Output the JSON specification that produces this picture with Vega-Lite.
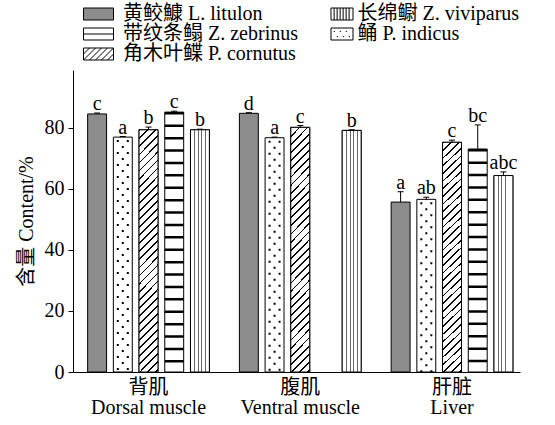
{
  "$schema": "https://vega.github.io/schema/vega-lite/v6.json",
  "width": 447,
  "height": 302,
  "autosize": {"type": "none"},
  "padding": {"left": 73, "top": 70, "right": 35, "bottom": 53},
  "background": "white",
  "config": {
    "view": {"stroke": null},
    "font": "Liberation Serif, Noto Sans CJK SC",
    "axis": {"domainColor": "black", "tickColor": "black", "labelColor": "black", "titleColor": "black", "grid": false, "labelFont": "Liberation Serif, Noto Sans CJK SC", "titleFont": "Liberation Serif, Noto Sans CJK SC", "labelFontSize": 20, "titleFontSize": 20, "titleFontWeight": "normal"},
    "legend": {"labelFont": "Liberation Serif, Noto Sans CJK SC", "labelFontSize": 20, "labelColor": "black"}
  },
  "data": {
    "values": [
      {"group": "背肌|Dorsal muscle", "species": "黄鲛鱇 L. litulon", "value": 84.6, "hi": 84.9, "letter": "c"},
      {"group": "背肌|Dorsal muscle", "species": "鲬 P. indicus", "value": 77.0, "hi": 77.2, "letter": "a"},
      {"group": "背肌|Dorsal muscle", "species": "角木叶鲽 P. cornutus", "value": 79.4, "hi": 80.3, "letter": "b"},
      {"group": "背肌|Dorsal muscle", "species": "带纹条鳎 Z. zebrinus", "value": 85.2, "hi": 85.5, "letter": "c"},
      {"group": "背肌|Dorsal muscle", "species": "长绵鳚 Z. viviparus", "value": 79.4, "hi": 79.6, "letter": "b"},
      {"group": "腹肌|Ventral muscle", "species": "黄鲛鱇 L. litulon", "value": 84.8, "hi": 85.0, "letter": "d"},
      {"group": "腹肌|Ventral muscle", "species": "鲬 P. indicus", "value": 76.8, "hi": 77.0, "letter": "a"},
      {"group": "腹肌|Ventral muscle", "species": "角木叶鲽 P. cornutus", "value": 80.2, "hi": 80.8, "letter": "c"},
      {"group": "腹肌|Ventral muscle", "species": "长绵鳚 Z. viviparus", "value": 79.2, "hi": 79.4, "letter": "b"},
      {"group": "肝脏|Liver", "species": "黄鲛鱇 L. litulon", "value": 55.7, "hi": 59.1, "letter": "a"},
      {"group": "肝脏|Liver", "species": "鲬 P. indicus", "value": 56.6, "hi": 57.3, "letter": "ab"},
      {"group": "肝脏|Liver", "species": "角木叶鲽 P. cornutus", "value": 75.3, "hi": 76.0, "letter": "c"},
      {"group": "肝脏|Liver", "species": "带纹条鳎 Z. zebrinus", "value": 73.1, "hi": 81.0, "letter": "bc"},
      {"group": "肝脏|Liver", "species": "长绵鳚 Z. viviparus", "value": 64.4, "hi": 65.6, "letter": "abc"}
    ]
  },
  "encoding": {
    "x": {
      "field": "group", "type": "nominal", "sort": null,
      "scale": {"domain": ["背肌|Dorsal muscle", "腹肌|Ventral muscle", "肝脏|Liver"], "paddingInner": 0.153, "paddingOuter": 0.0493, "align": 0.752},
      "axis": {"title": null, "ticks": false, "labelAngle": 0, "labelExpr": "split(datum.label, '|')", "labelPadding": 5, "labelLineHeight": 20.5, "labelBaseline": "top"}
    },
    "xOffset": {
      "field": "species", "type": "nominal",
      "scale": {"domain": ["黄鲛鱇 L. litulon", "鲬 P. indicus", "角木叶鲽 P. cornutus", "带纹条鳎 Z. zebrinus", "长绵鳚 Z. viviparus"], "paddingInner": 0.264, "paddingOuter": 0.132}
    },
    "y": {
      "field": "value", "type": "quantitative",
      "scale": {"domain": [0, 99], "nice": false},
      "axis": {"title": "含量 Content/%", "values": [0, 20, 40, 60, 80], "tickSize": 5, "labelPadding": 4, "titlePadding": 8}
    }
  },
  "layer": [
    {
      "mark": {"type": "bar", "stroke": "black", "strokeWidth": 1, "opacity": 1},
      "encoding": {
        "fill": {
          "field": "species", "type": "nominal",
          "scale": {"domain": ["黄鲛鱇 L. litulon", "带纹条鳎 Z. zebrinus", "角木叶鲽 P. cornutus", "长绵鳚 Z. viviparus", "鲬 P. indicus"], "range": ["#8c8c8c", "white", "white", "white", "white"]},
          "legend": {
            "title": null, "orient": "none", "legendX": 15.5, "legendY": -66, "columns": 2, "columnPadding": 24.5, "rowPadding": 0, "padding": 0,
            "symbolSize": 225, "symbolStrokeColor": "black", "symbolStrokeWidth": 1, "labelOffset": 14.5, "labelLimit": 400,
            "symbolType": {"expr": "indexof(datum.value,'zebrinus')>=0 ? 'M-2,-0.8H2V0.8H-2ZM-2,0H2' : indexof(datum.value,'viviparus')>=0 ? 'M-0.267,-0.8H2.667V0.8H-0.267ZM0.15,-0.8V0.8M0.55,-0.8V0.8M0.95,-0.8V0.8M1.35,-0.8V0.8M1.75,-0.8V0.8M2.15,-0.8V0.8' : indexof(datum.value,'cornutus')>=0 ? 'M-2,-0.8H2V0.8H-2ZM-2,0L-1.2,-0.8M-2,0.8L-0.4,-0.8M-1.2,0.8L0.4,-0.8M-0.4,0.8L1.2,-0.8M0.4,0.8L2,-0.8M1.2,0.8L2,0' : indexof(datum.value,'indicus')>=0 ? 'M-0.267,-0.8H2.667V0.8H-0.267ZM0.1,-0.35h0.16M0.9,-0.35h0.16M1.7,-0.35h0.16M0.5,0.35h0.16M1.3,0.35h0.16M2.1,0.35h0.16' : 'M-2,-0.8H2V0.8H-2Z'"}
          }
        }
      }
    },
    {
      "transform": [{"filter": "indexof(datum.species,'cornutus')>=0"}],
      "mark": {
        "type": "bar", "stroke": "black", "strokeWidth": 1,
        "fill": {"gradient": "linear", "x1": 0, "y1": 0, "x2": 0.0865, "y2": 1.093, "stops": [
          {"offset": 0, "color": "#000"}, {"offset": 0.0067, "color": "#000"}, {"offset": 0.0067, "color": "#fff"}, {"offset": 0.0303, "color": "#fff"},
          {"offset": 0.0303, "color": "#000"}, {"offset": 0.037, "color": "#000"}, {"offset": 0.037, "color": "#fff"}, {"offset": 0.0606, "color": "#fff"},
          {"offset": 0.0606, "color": "#000"}, {"offset": 0.0673, "color": "#000"}, {"offset": 0.0673, "color": "#fff"}, {"offset": 0.0909, "color": "#fff"},
          {"offset": 0.0909, "color": "#000"}, {"offset": 0.0976, "color": "#000"}, {"offset": 0.0976, "color": "#fff"}, {"offset": 0.1212, "color": "#fff"},
          {"offset": 0.1212, "color": "#000"}, {"offset": 0.1279, "color": "#000"}, {"offset": 0.1279, "color": "#fff"}, {"offset": 0.1515, "color": "#fff"},
          {"offset": 0.1515, "color": "#000"}, {"offset": 0.1582, "color": "#000"}, {"offset": 0.1582, "color": "#fff"}, {"offset": 0.1818, "color": "#fff"},
          {"offset": 0.1818, "color": "#000"}, {"offset": 0.1885, "color": "#000"}, {"offset": 0.1885, "color": "#fff"}, {"offset": 0.2121, "color": "#fff"},
          {"offset": 0.2121, "color": "#000"}, {"offset": 0.2188, "color": "#000"}, {"offset": 0.2188, "color": "#fff"}, {"offset": 0.2424, "color": "#fff"},
          {"offset": 0.2424, "color": "#000"}, {"offset": 0.2491, "color": "#000"}, {"offset": 0.2491, "color": "#fff"}, {"offset": 0.2727, "color": "#fff"},
          {"offset": 0.2727, "color": "#000"}, {"offset": 0.2794, "color": "#000"}, {"offset": 0.2794, "color": "#fff"}, {"offset": 0.303, "color": "#fff"},
          {"offset": 0.303, "color": "#000"}, {"offset": 0.3097, "color": "#000"}, {"offset": 0.3097, "color": "#fff"}, {"offset": 0.3333, "color": "#fff"},
          {"offset": 0.3333, "color": "#000"}, {"offset": 0.34, "color": "#000"}, {"offset": 0.34, "color": "#fff"}, {"offset": 0.3636, "color": "#fff"},
          {"offset": 0.3636, "color": "#000"}, {"offset": 0.3703, "color": "#000"}, {"offset": 0.3703, "color": "#fff"}, {"offset": 0.3939, "color": "#fff"},
          {"offset": 0.3939, "color": "#000"}, {"offset": 0.4006, "color": "#000"}, {"offset": 0.4006, "color": "#fff"}, {"offset": 0.4242, "color": "#fff"},
          {"offset": 0.4242, "color": "#000"}, {"offset": 0.4309, "color": "#000"}, {"offset": 0.4309, "color": "#fff"}, {"offset": 0.4545, "color": "#fff"},
          {"offset": 0.4545, "color": "#000"}, {"offset": 0.4612, "color": "#000"}, {"offset": 0.4612, "color": "#fff"}, {"offset": 0.4848, "color": "#fff"},
          {"offset": 0.4848, "color": "#000"}, {"offset": 0.4915, "color": "#000"}, {"offset": 0.4915, "color": "#fff"}, {"offset": 0.5152, "color": "#fff"},
          {"offset": 0.5152, "color": "#000"}, {"offset": 0.5219, "color": "#000"}, {"offset": 0.5219, "color": "#fff"}, {"offset": 0.5455, "color": "#fff"},
          {"offset": 0.5455, "color": "#000"}, {"offset": 0.5522, "color": "#000"}, {"offset": 0.5522, "color": "#fff"}, {"offset": 0.5758, "color": "#fff"},
          {"offset": 0.5758, "color": "#000"}, {"offset": 0.5825, "color": "#000"}, {"offset": 0.5825, "color": "#fff"}, {"offset": 0.6061, "color": "#fff"},
          {"offset": 0.6061, "color": "#000"}, {"offset": 0.6128, "color": "#000"}, {"offset": 0.6128, "color": "#fff"}, {"offset": 0.6364, "color": "#fff"},
          {"offset": 0.6364, "color": "#000"}, {"offset": 0.6431, "color": "#000"}, {"offset": 0.6431, "color": "#fff"}, {"offset": 0.6667, "color": "#fff"},
          {"offset": 0.6667, "color": "#000"}, {"offset": 0.6734, "color": "#000"}, {"offset": 0.6734, "color": "#fff"}, {"offset": 0.697, "color": "#fff"},
          {"offset": 0.697, "color": "#000"}, {"offset": 0.7037, "color": "#000"}, {"offset": 0.7037, "color": "#fff"}, {"offset": 0.7273, "color": "#fff"},
          {"offset": 0.7273, "color": "#000"}, {"offset": 0.734, "color": "#000"}, {"offset": 0.734, "color": "#fff"}, {"offset": 0.7576, "color": "#fff"},
          {"offset": 0.7576, "color": "#000"}, {"offset": 0.7643, "color": "#000"}, {"offset": 0.7643, "color": "#fff"}, {"offset": 0.7879, "color": "#fff"},
          {"offset": 0.7879, "color": "#000"}, {"offset": 0.7946, "color": "#000"}, {"offset": 0.7946, "color": "#fff"}, {"offset": 0.8182, "color": "#fff"},
          {"offset": 0.8182, "color": "#000"}, {"offset": 0.8249, "color": "#000"}, {"offset": 0.8249, "color": "#fff"}, {"offset": 0.8485, "color": "#fff"},
          {"offset": 0.8485, "color": "#000"}, {"offset": 0.8552, "color": "#000"}, {"offset": 0.8552, "color": "#fff"}, {"offset": 0.8788, "color": "#fff"},
          {"offset": 0.8788, "color": "#000"}, {"offset": 0.8855, "color": "#000"}, {"offset": 0.8855, "color": "#fff"}, {"offset": 0.9091, "color": "#fff"},
          {"offset": 0.9091, "color": "#000"}, {"offset": 0.9158, "color": "#000"}, {"offset": 0.9158, "color": "#fff"}, {"offset": 0.9394, "color": "#fff"},
          {"offset": 0.9394, "color": "#000"}, {"offset": 0.9461, "color": "#000"}, {"offset": 0.9461, "color": "#fff"}, {"offset": 0.9697, "color": "#fff"},
          {"offset": 0.9697, "color": "#000"}, {"offset": 0.9764, "color": "#000"}, {"offset": 0.9764, "color": "#fff"}, {"offset": 1, "color": "#fff"}
        ]}
      }
    },
    {
      "transform": [{"filter": "indexof(datum.species,'viviparus')>=0"}],
      "mark": {
        "type": "bar", "stroke": "black", "strokeWidth": 1,
        "fill": {"gradient": "linear", "x1": 0, "y1": 0, "x2": 1, "y2": 0, "stops": [
          {"offset": 0, "color": "#fff"}, {"offset": 0.19, "color": "#fff"}, {"offset": 0.19, "color": "#666"}, {"offset": 0.24, "color": "#666"}, {"offset": 0.24, "color": "#fff"},
          {"offset": 0.39, "color": "#fff"}, {"offset": 0.39, "color": "#666"}, {"offset": 0.44, "color": "#666"}, {"offset": 0.44, "color": "#fff"},
          {"offset": 0.58, "color": "#fff"}, {"offset": 0.58, "color": "#666"}, {"offset": 0.63, "color": "#666"}, {"offset": 0.63, "color": "#fff"},
          {"offset": 0.77, "color": "#fff"}, {"offset": 0.77, "color": "#666"}, {"offset": 0.82, "color": "#666"}, {"offset": 0.82, "color": "#fff"},
          {"offset": 1, "color": "#fff"}
        ]}
      }
    },
    {
      "transform": [{"filter": "indexof(datum.species,'zebrinus')>=0"}],
      "mark": {"type": "rule", "color": "black", "strokeWidth": 18.9, "strokeDash": [2.5, 9.9], "strokeCap": "butt"},
      "encoding": {"y2": {"datum": 0}}
    },
    {
      "transform": [{"filter": "indexof(datum.species,'indicus')>=0"}],
      "mark": {
        "type": "point", "filled": false, "stroke": "black", "strokeWidth": 2, "opacity": 1, "size": 40000, "clip": true,
        "shape": "M-0.06,0.04h0.02M0.04,0.04h0.02M-0.01,0.1h0.02M-0.06,0.16h0.02M0.04,0.16h0.02M-0.01,0.22h0.02M-0.06,0.28h0.02M0.04,0.28h0.02M-0.01,0.34h0.02M-0.06,0.4h0.02M0.04,0.4h0.02M-0.01,0.46h0.02M-0.06,0.52h0.02M0.04,0.52h0.02M-0.01,0.58h0.02M-0.06,0.64h0.02M0.04,0.64h0.02M-0.01,0.7h0.02M-0.06,0.76h0.02M0.04,0.76h0.02M-0.01,0.82h0.02M-0.06,0.88h0.02M0.04,0.88h0.02M-0.01,0.94h0.02M-0.06,1h0.02M0.04,1h0.02M-0.01,1.06h0.02M-0.06,1.12h0.02M0.04,1.12h0.02M-0.01,1.18h0.02M-0.06,1.24h0.02M0.04,1.24h0.02M-0.01,1.3h0.02M-0.06,1.36h0.02M0.04,1.36h0.02M-0.01,1.42h0.02M-0.06,1.48h0.02M0.04,1.48h0.02M-0.01,1.54h0.02M-0.06,1.6h0.02M0.04,1.6h0.02M-0.01,1.66h0.02M-0.06,1.72h0.02M0.04,1.72h0.02M-0.01,1.78h0.02M-0.06,1.84h0.02M0.04,1.84h0.02M-0.01,1.9h0.02M-0.06,1.96h0.02M0.04,1.96h0.02M-0.01,2.02h0.02M-0.06,2.08h0.02M0.04,2.08h0.02M-0.01,2.14h0.02M-0.06,2.2h0.02M0.04,2.2h0.02M-0.01,2.26h0.02M-0.06,2.32h0.02M0.04,2.32h0.02M-0.01,2.38h0.02"
      }
    },
    {
      "mark": {"type": "rule", "color": "black", "strokeWidth": 1},
      "encoding": {"y2": {"field": "hi"}}
    },
    {
      "mark": {"type": "tick", "color": "black", "thickness": 1, "size": 6, "orient": "horizontal", "opacity": 1},
      "encoding": {"y": {"field": "hi", "type": "quantitative"}}
    },
    {
      "mark": {"type": "text", "font": "Liberation Serif", "fontSize": 20, "color": "black", "baseline": "alphabetic", "align": "center", "dy": -3},
      "encoding": {"y": {"field": "hi", "type": "quantitative"}, "text": {"field": "letter"}}
    }
  ]
}
